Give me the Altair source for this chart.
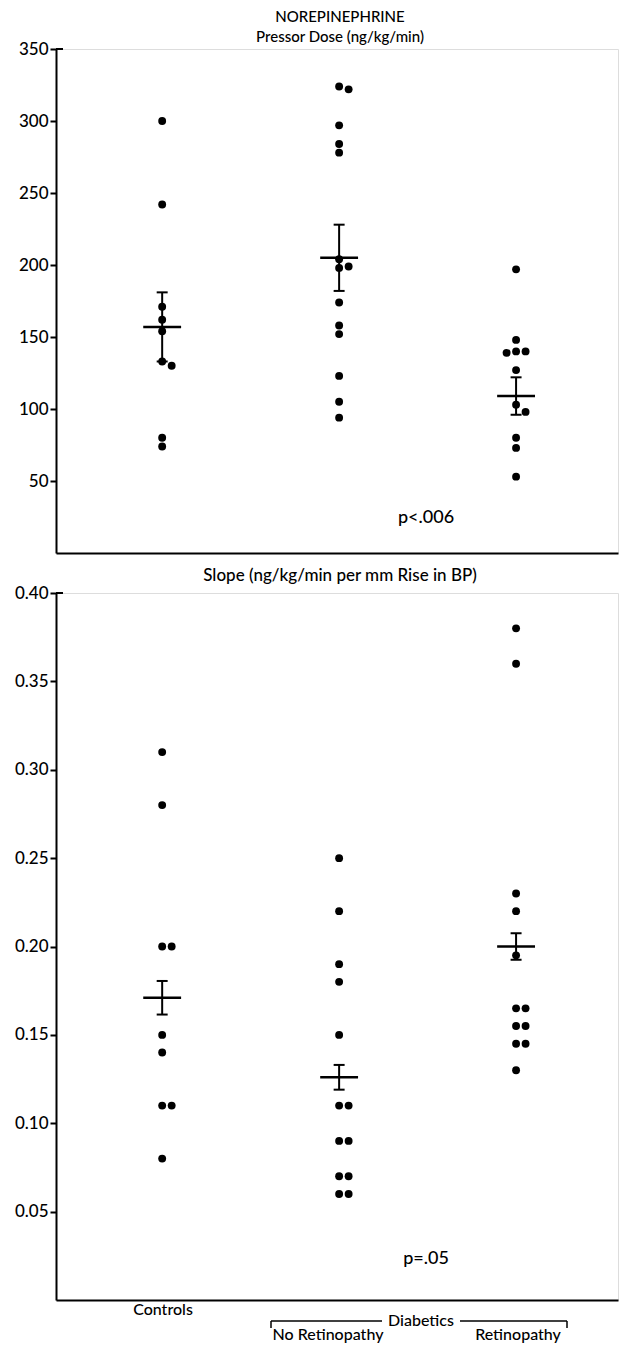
import altair as alt
import pandas as pd

groups = ["Controls", "No Retinopathy", "Retinopathy"]

# Pressor dose (ng/kg/min)
dose_controls = [300, 242, 171, 162, 154, 133, 130, 80, 74]
dose_no_ret = [324, 322, 297, 284, 278, 204, 199, 198, 174, 158, 152, 123, 105, 94]
dose_ret = [197, 148, 140, 140, 139, 127, 103, 98, 80, 73, 53]
dose_mean = [157, 205, 109]
dose_sem = [24, 23, 13]
dose_ticks = [50, 100, 150, 200, 250, 300, 350]

# Slope (ng/kg/min per mm rise in BP)
slope_controls = [0.31, 0.28, 0.20, 0.20, 0.15, 0.14, 0.11, 0.11, 0.08]
slope_no_ret = [0.25, 0.22, 0.19, 0.18, 0.15, 0.11, 0.11, 0.09, 0.09, 0.07, 0.07, 0.06, 0.06]
slope_ret = [0.38, 0.36, 0.23, 0.22, 0.195, 0.165, 0.165, 0.155, 0.155, 0.145, 0.145, 0.13]
slope_mean = [0.171, 0.126, 0.200]
slope_sem = [0.0095, 0.007, 0.0075]
slope_ticks = [0.05, 0.10, 0.15, 0.20, 0.25, 0.30, 0.35, 0.40]

FONT = "Lato"
WEIGHT = 500
W = 562
H_TOP = 504
H_BOT = 707
X_DOMAIN = [-0.6, 2.576]
PX = W / (X_DOMAIN[1] - X_DOMAIN[0])  # pixels per group unit
DOT_D = 8.0
DOT_STEP = 9.5


def dodge(values, px_per_unit):
    """Place equal-ish values side by side (beeswarm style)."""
    placed = []
    out = []
    for v in values:
        py = v * px_per_unit
        chosen = 0.0
        for k in [0, 1, -1, 2, -2, 3, -3]:
            ox = k * DOT_STEP
            if all((ox - a) ** 2 + (py - b) ** 2 >= DOT_D ** 2 for a, b in placed):
                chosen = ox
                break
        placed.append((chosen, py))
        out.append(chosen)
    return out


def panel(series, means, sems, ymax, height, ticks, fmt, texts, extra=None):
    px_per_unit = height / ymax
    rows = []
    for gi, vals in enumerate(series):
        offs = dodge(vals, px_per_unit)
        for v, o in zip(vals, offs):
            rows.append({"g": gi, "group": groups[gi], "v": v, "xpos": gi + o / PX})
    pts_df = pd.DataFrame(rows)
    st_df = pd.DataFrame({
        "g": list(range(3)),
        "group": groups,
        "mean": means,
        "lo": [m - s for m, s in zip(means, sems)],
        "hi": [m + s for m, s in zip(means, sems)],
    })

    xs = alt.Scale(domain=X_DOMAIN, nice=False, zero=False)
    ys = alt.Scale(domain=[0, ymax], nice=False, zero=False)

    pts = alt.Chart(pts_df).mark_circle(size=62, color="black", opacity=1).encode(
        x=alt.X("xpos:Q", scale=xs, title=None,
                axis=alt.Axis(labels=False, ticks=False, grid=False, title=None,
                              domainColor="black", domainWidth=2)),
        y=alt.Y("v:Q", scale=ys, title=None,
                axis=alt.Axis(values=ticks, format=fmt, grid=False, title=None,
                              tickSize=6, tickWidth=2, tickColor="black",
                              domainColor="black", domainWidth=2,
                              labelFontSize=17, labelFont=FONT, labelColor="black",
                              labelFontWeight=WEIGHT, labelPadding=2)),
    )

    base = alt.Chart(st_df)
    mean_line = base.mark_rule(color="black", strokeWidth=2.5).transform_calculate(
        xl="datum.g - 0.107", xr="datum.g + 0.107"
    ).encode(x=alt.X("xl:Q", title=None), x2="xr:Q", y=alt.Y("mean:Q", title=None))
    err = base.mark_rule(color="black", strokeWidth=2).encode(
        x=alt.X("g:Q", title=None), y=alt.Y("lo:Q", title=None), y2="hi:Q")
    cap_lo = base.mark_rule(color="black", strokeWidth=2).transform_calculate(
        xl="datum.g - 0.031", xr="datum.g + 0.031"
    ).encode(x=alt.X("xl:Q", title=None), x2="xr:Q", y=alt.Y("lo:Q", title=None))
    cap_hi = base.mark_rule(color="black", strokeWidth=2).transform_calculate(
        xl="datum.g - 0.031", xr="datum.g + 0.031"
    ).encode(x=alt.X("xl:Q", title=None), x2="xr:Q", y=alt.Y("hi:Q", title=None))

    one = alt.Data(values=[{}])
    corner = alt.Chart(one).mark_rule(color="black", strokeWidth=2).encode(
        x=alt.value(0), x2=alt.value(7), y=alt.datum(ymax))

    layers = [pts, mean_line, err, cap_lo, cap_hi, corner]
    for (txt, x, y, size) in texts:
        layers.append(alt.Chart(one).mark_text(
            text=txt, font=FONT, fontSize=size, fontWeight=WEIGHT, color="black",
            align="center", baseline="middle").encode(x=alt.value(x), y=alt.value(y)))
    if extra:
        layers.extend(extra)
    return alt.layer(*layers).properties(width=W, height=height)


top = panel(
    [dose_controls, dose_no_ret, dose_ret], dose_mean, dose_sem, 350, H_TOP,
    dose_ticks, "d",
    [("NOREPINEPHRINE", 284, -32, 15),
     ("Pressor Dose (ng/kg/min)", 284, -12, 15),
     ("p<.006", 370, 469, 18)],
)

one = alt.Data(values=[{}])
bracket = [
    alt.Chart(one).mark_rule(color="black", strokeWidth=1.5).encode(
        x=alt.value(215), x2=alt.value(326), y=alt.value(728)),
    alt.Chart(one).mark_rule(color="black", strokeWidth=1.5).encode(
        x=alt.value(404), x2=alt.value(511), y=alt.value(728)),
    alt.Chart(one).mark_rule(color="black", strokeWidth=1.5).encode(
        x=alt.value(215), y=alt.value(728), y2=alt.value(735)),
    alt.Chart(one).mark_rule(color="black", strokeWidth=1.5).encode(
        x=alt.value(511), y=alt.value(728), y2=alt.value(735)),
]

bottom = panel(
    [slope_controls, slope_no_ret, slope_ret], slope_mean, slope_sem, 0.40, H_BOT,
    slope_ticks, ".2f",
    [("Slope (ng/kg/min per mm Rise in BP)", 284, -17, 17),
     ("p=.05", 370, 666, 18),
     (groups[0], 107, 717, 16),
     ("Diabetics", 365, 728, 16),
     (groups[1], 272, 742, 16),
     (groups[2], 462, 742, 16)],
    extra=bracket,
)

chart = alt.vconcat(top, bottom, spacing=40, bounds="flush").properties(
    padding={"left": 5, "top": 1, "right": 0, "bottom": 0}
).configure_view(stroke=None).configure(font=FONT)

chart.save("out.html", embed_options={"renderer": "svg", "actions": False})
